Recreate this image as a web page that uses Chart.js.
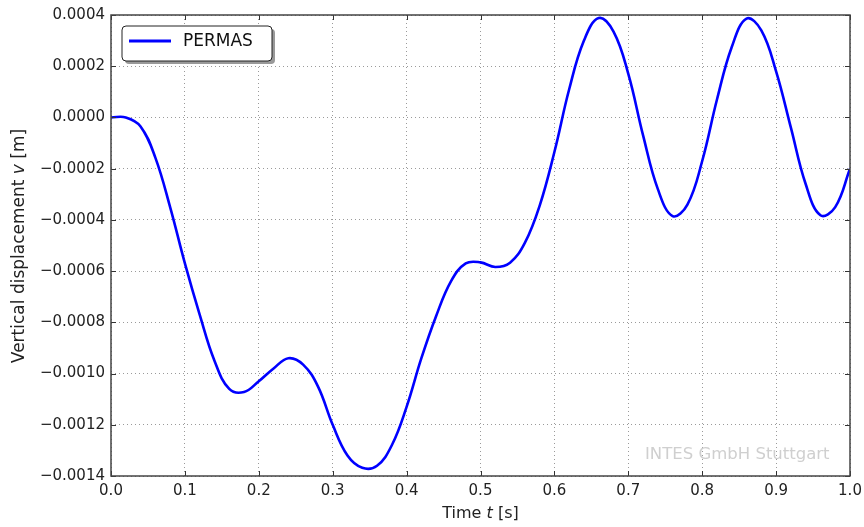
<!DOCTYPE html>
<html>
<head>
<meta charset="utf-8">
<script src="https://cdn.jsdelivr.net/npm/chart.js@4"></script>
<style>
  html, body { margin: 0; padding: 0; background: #fff; }
  #wrap { width: 864px; height: 527px; }
</style>
</head>
<body>
<div id="wrap"><canvas id="Displacement" width="864" height="527"></canvas></div>
<script>
// time [s] and vertical displacement [m], every 0.02 s
const timeValues = [0, 0.02, 0.04, 0.06, 0.08, 0.1, 0.12, 0.14, 0.16, 0.18, 0.2, 0.22, 0.24, 0.26, 0.28, 0.3, 0.32, 0.34, 0.36, 0.38, 0.4, 0.42, 0.44, 0.46, 0.48, 0.5, 0.52, 0.54, 0.56, 0.58, 0.6, 0.62, 0.64, 0.66, 0.68, 0.7, 0.72, 0.74, 0.76, 0.78, 0.8, 0.82, 0.84, 0.86, 0.88, 0.9, 0.92, 0.94, 0.96, 0.98, 1.0];
const permasValues = [0, 0, -0.000035, -0.000157, -0.00035, -0.00057, -0.00077, -0.00095, -0.00106, -0.001072, -0.00103, -0.00098, -0.00094, -0.000965, -0.00105, -0.0012, -0.00132, -0.001368, -0.00136, -0.00128, -0.00113, -0.00094, -0.000775, -0.00064, -0.00057, -0.000566, -0.000584, -0.000567, -0.00049, -0.000345, -0.000135, 0.00011, 0.0003, 0.000388, 0.000335, 0.00017, -0.00007, -0.00028, -0.000385, -0.00034, -0.00017, 0.00007, 0.000275, 0.000386, 0.00034, 0.00018, -0.00004, -0.00026, -0.000382, -0.00035, -0.0002];
const seriesLabel = "PERMAS";
const xTitle = ["Time ", "t", " [s]"];
const yTitle = ["Vertical displacement ", "v", " [m]"];
const watermark = "INTES GmbH Stuttgart";

const FONT = "'DejaVu Sans', sans-serif";

function drawMixed(ctx, parts, size) {
    // parts: normal, italic, normal
    const fonts = [size + "px " + FONT, "italic " + size + "px " + FONT, size + "px " + FONT];
    let total = 0;
    parts.forEach((p, i) => { ctx.font = fonts[i]; total += ctx.measureText(p).width; });
    let x = -total / 2;
    parts.forEach((p, i) => {
        ctx.font = fonts[i];
        ctx.fillText(p, x, 0);
        x += ctx.measureText(p).width;
    });
}

const decorations = {
    id: 'decorations',
    afterDatasetsDraw(chart) {
        const ctx = chart.ctx;
        const a = chart.chartArea;
        const xs = chart.scales.x, ys = chart.scales.y;
        ctx.save();
        // inward ticks
        ctx.strokeStyle = '#333';
        ctx.lineWidth = 1;
        xs.ticks.forEach(t => {
            const px = Math.round(xs.getPixelForValue(t.value)) + 0.5;
            ctx.beginPath();
            ctx.moveTo(px, a.bottom); ctx.lineTo(px, a.bottom - 5);
            ctx.moveTo(px, a.top); ctx.lineTo(px, a.top + 5);
            ctx.stroke();
        });
        ys.ticks.forEach(t => {
            const py = Math.round(ys.getPixelForValue(t.value)) + 0.5;
            ctx.beginPath();
            ctx.moveTo(a.left, py); ctx.lineTo(a.left + 5, py);
            ctx.moveTo(a.right, py); ctx.lineTo(a.right - 5, py);
            ctx.stroke();
        });
        // frame
        ctx.strokeStyle = '#444';
        ctx.lineWidth = 1.5;
        ctx.strokeRect(a.left, a.top, a.right - a.left, a.bottom - a.top);

        // watermark
        ctx.fillStyle = '#cfcfcf';
        ctx.font = "16.5px " + FONT;
        ctx.textBaseline = 'alphabetic';
        ctx.fillText(watermark, 645, 459);

        // legend
        const lx = 122, ly = 26, lw = 150, lh = 35, r = 4;
        function box(x, y) {
            ctx.beginPath();
            ctx.roundRect(x, y, lw, lh, r);
        }
        ctx.fillStyle = '#999';
        box(lx + 3, ly + 3); ctx.fill();
        ctx.fillStyle = '#fff';
        box(lx, ly); ctx.fill();
        ctx.strokeStyle = '#222';
        ctx.lineWidth = 1;
        ctx.stroke();
        ctx.strokeStyle = '#0000ff';
        ctx.lineWidth = 3;
        ctx.beginPath();
        ctx.moveTo(lx + 7, ly + 15); ctx.lineTo(lx + 49, ly + 15);
        ctx.stroke();
        ctx.fillStyle = '#111';
        ctx.font = "17px " + FONT;
        ctx.textBaseline = 'middle';
        ctx.fillText(seriesLabel, lx + 61, ly + 16);

        // axis titles
        ctx.fillStyle = '#222';
        ctx.textBaseline = 'alphabetic';
        ctx.save();
        ctx.translate((a.left + a.right) / 2, 518);
        drawMixed(ctx, xTitle, 16);
        ctx.restore();
        ctx.save();
        ctx.translate(24, 246);
        ctx.rotate(-Math.PI / 2);
        drawMixed(ctx, yTitle, 17);
        ctx.restore();
        ctx.restore();
    }
};

new Chart(document.getElementById("Displacement"), {
    type: 'line',
    data: {
        datasets: [{
            label: seriesLabel,
            data: timeValues.map((t, i) => ({ x: t, y: permasValues[i] })),
            borderColor: "#0000ff",
            borderWidth: 2.6,
            pointRadius: 0,
            tension: 0.4,
            fill: false
        }]
    },
    options: {
        responsive: false,
        animation: false,
        layout: { padding: { top: 15, right: 14, left: 0, bottom: 0 } },
        plugins: {
            legend: { display: false },
            tooltip: { enabled: false }
        },
        scales: {
            x: {
                type: 'linear',
                min: 0,
                max: 1,
                border: { display: false, dash: [1, 3] },
                grid: { color: '#9a9a9a', lineWidth: 1, drawTicks: false },
                ticks: {
                    stepSize: 0.1,
                    padding: 6,
                    color: '#222',
                    font: { family: FONT, size: 15 },
                    maxRotation: 0,
                    callback: v => v.toFixed(1)
                },
                afterFit: s => { s.height = 51; s.paddingLeft = 0; s.paddingRight = 0; }
            },
            y: {
                min: -0.0014,
                max: 0.0004,
                border: { display: false, dash: [1, 3] },
                grid: { color: '#9a9a9a', lineWidth: 1, drawTicks: false },
                ticks: {
                    stepSize: 0.0002,
                    padding: 6,
                    color: '#222',
                    font: { family: FONT, size: 15 },
                    callback: v => (Math.abs(v) < 1e-9 ? 0 : v).toFixed(4).replace('-', '\u2212')
                },
                afterFit: s => { s.width = 111; s.paddingTop = 0; s.paddingBottom = 0; }
            }
        }
    },
    plugins: [decorations]
});
</script>
</body>
</html>
